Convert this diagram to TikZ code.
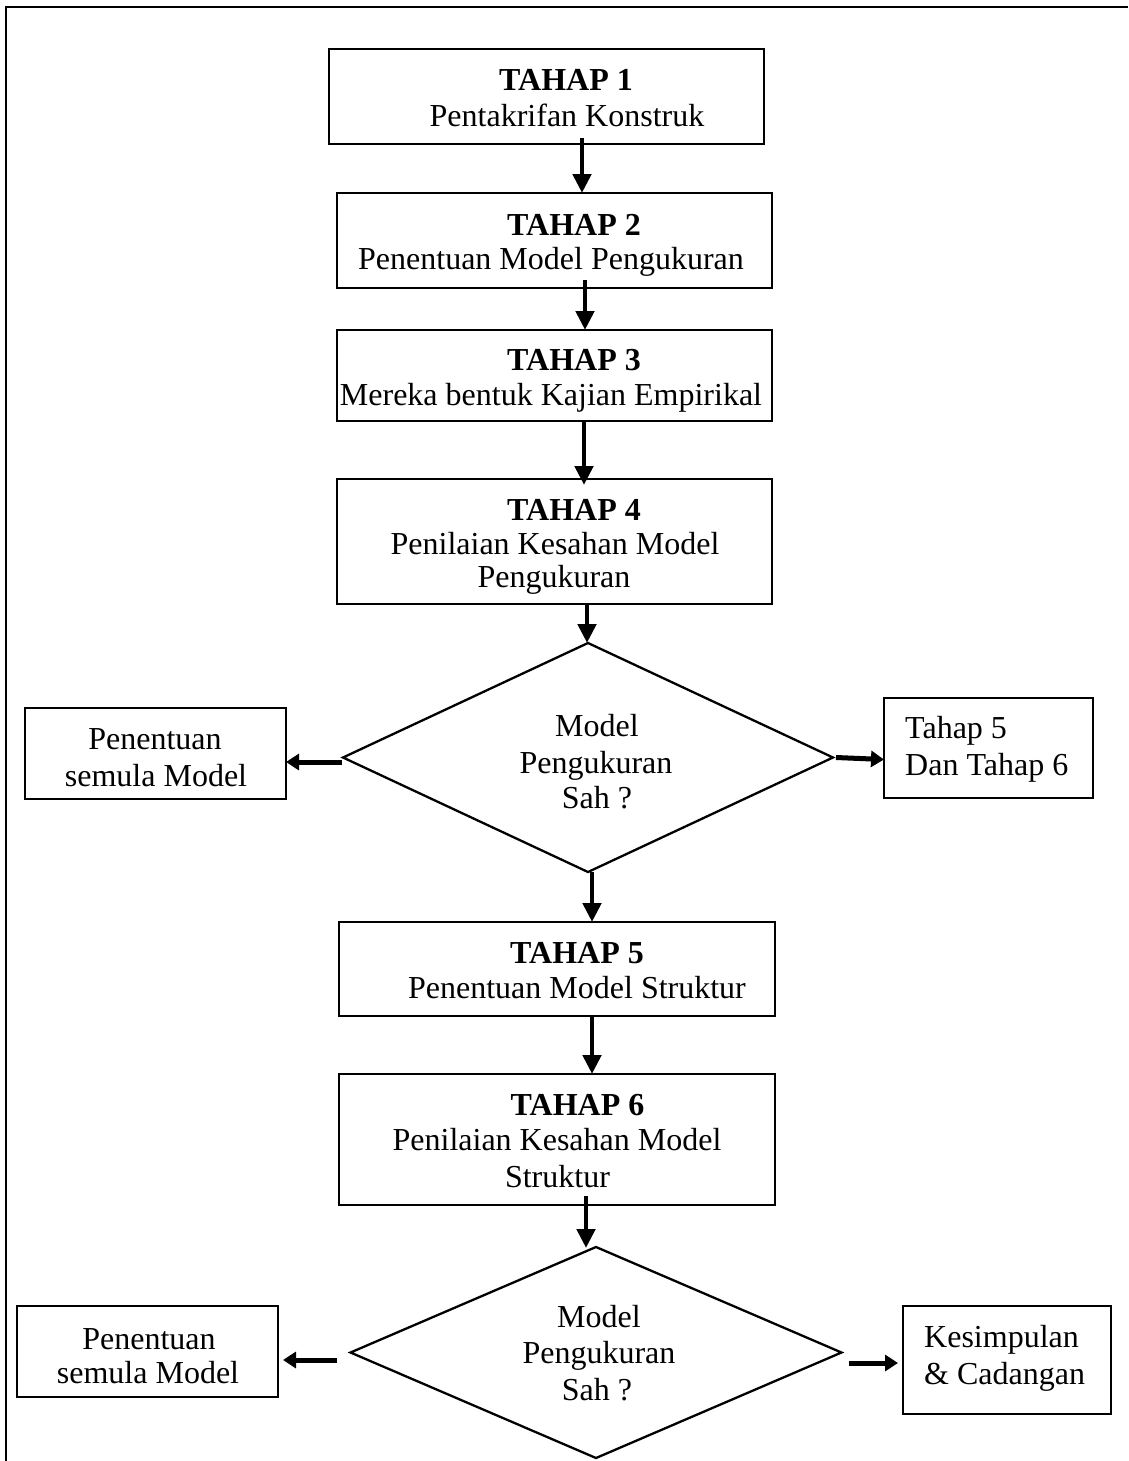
\documentclass[tikz,border=0pt]{standalone}
\usepackage{fontspec}
\setmainfont{Liberation Serif}
\usetikzlibrary{shapes.geometric,arrows.meta}
\begin{document}
\begin{tikzpicture}[x=1pt,y=-1pt,
  box/.style n args={2}{draw, line width=2pt, inner sep=0pt, outer sep=0pt,
    minimum width=#1pt, minimum height=#2pt},
  decision/.style n args={2}{diamond, draw, line width=2.3pt, inner sep=0pt,
    outer sep=0pt, minimum width=#1pt, minimum height=#2pt},
  txt/.style={inner sep=0pt, anchor=base, font=\fontsize{32}{37}\selectfont},
  head/.style={txt, font=\fontsize{32}{37}\selectfont\bfseries},
  flow/.style={line width=4.8pt, -{Triangle[length=19pt,width=18pt]}},
  side/.style={line width=5pt, -{Triangle[length=13pt,width=16pt]}},
  frame/.style={line width=2.5pt}]

% page area
\useasboundingbox (0,0) rectangle (1128,1461);
\draw[frame] (6,1461) -- (6,7) -- (1128,7);

% process boxes
\node[box={435}{95}]  (b1) at (546.5,96.5) {};
\node[box={435}{95}]  (b2) at (554.5,240.5) {};
\node[box={435}{91}]  (b3) at (554.5,375.5) {};
\node[box={435}{125}] (b4) at (554.5,541.5) {};
\node[box={436}{94}]  (b5) at (557,969) {};
\node[box={436}{131}] (b6) at (557,1139.5) {};

% decisions
\node[decision={490}{229}] (d1) at (588,757.5) {};
\node[decision={491}{211}] (d2) at (596,1352.5) {};

% side boxes
\node[box={261}{91}]  (l1) at (155.5,753.5) {};
\node[box={209}{100}] (r1) at (988.5,748) {};
\node[box={261}{91}]  (l2) at (147.5,1351.5) {};
\node[box={208}{108}] (r2) at (1007,1360) {};

% box texts
\node[head] (t1a) at (566,91)  {TAHAP 1};
\node[txt]  (t1b) at (567,127) {Pentakrifan Konstruk};
\node[head] (t2a) at (574,235) {TAHAP 2};
\node[txt]  (t2b) at (551,269) {Penentuan Model Pengukuran};
\node[head] (t3a) at (574,370) {TAHAP 3};
\node[txt]  (t3b) at (551,405) {Mereka bentuk Kajian Empirikal};
\node[head] (t4a) at (574,520) {TAHAP 4};
\node[txt]  (t4b) at (555,554) {Penilaian Kesahan Model};
\node[txt]  (t4c) at (554,587) {Pengukuran};
\node[head] (t5a) at (577,963) {TAHAP 5};
\node[txt]  (t5b) at (577,998) {Penentuan Model Struktur};
\node[head] (t6a) at (577.5,1115) {TAHAP 6};
\node[txt]  (t6b) at (557,1150) {Penilaian Kesahan Model};
\node[txt]  (t6c) at (557.5,1187) {Struktur};

% decision texts
\node[txt] (q1a) at (597,736) {Model};
\node[txt] (q1b) at (596,773) {Pengukuran};
\node[txt] (q1c) at (597,808) {Sah ?};
\node[txt] (q2a) at (599,1327) {Model};
\node[txt] (q2b) at (599,1363) {Pengukuran};
\node[txt] (q2c) at (597,1400) {Sah ?};

% side texts
\node[txt] (s1a) at (155,749) {Penentuan};
\node[txt] (s1b) at (156,786) {semula Model};
\node[txt, anchor=base west] (s2a) at (905,738) {Tahap 5};
\node[txt, anchor=base west] (s2b) at (905,775) {Dan Tahap 6};
\node[txt] (s3a) at (149,1349) {Penentuan};
\node[txt] (s3b) at (148,1383) {semula Model};
\node[txt, anchor=base west] (s4a) at (924,1347) {Kesimpulan};
\node[txt, anchor=base west] (s4b) at (924,1384) {\&\ Cadangan};

% x positions of the vertical connectors
\coordinate (x1) at (582,0);
\coordinate (x2) at (585,0);
\coordinate (x3) at (584,0);
\coordinate (x4) at (587,0);
\coordinate (x5) at (592,0);
\coordinate (x6) at (592,0);
\coordinate (x7) at (586,0);

% main flow
\draw[flow] ([yshift=6pt]b1.south -| x1) -- (b2.north -| x1);
\draw[flow] ([yshift=8pt]b2.south -| x2) -- (b3.north -| x2);
\draw[flow] (b3.south -| x3) -- ([yshift=-6pt]b4.north -| x3);
\draw[flow] (b4.south -| x4) -- (d1.north -| x4);
\draw[flow] (d1.south -| x5) -- (b5.north -| x5);
\draw[flow] (b5.south -| x6) -- (b6.north -| x6);
\draw[flow] ([yshift=9pt]b6.south -| x7) -- ([yshift=-1pt]d2.north -| x7);

% side branches
\draw[side] ([xshift=-1pt,yshift=-4.5pt]d1.west) -- ([yshift=-4.5pt]l1.east |- d1.west);
\draw[side] ([xshift=3pt]d1.east) -- ([yshift=-2pt]r1.west |- d1.east);
\draw[side] ([xshift=-14pt,yshift=-7.5pt]d2.west) -- ([xshift=5pt,yshift=-7.5pt]l2.east |- d2.west);
\draw[side] ([xshift=7pt,yshift=-10.5pt]d2.east) -- ([xshift=-5pt,yshift=-10.5pt]r2.west |- d2.east);
\end{tikzpicture}
\end{document}
